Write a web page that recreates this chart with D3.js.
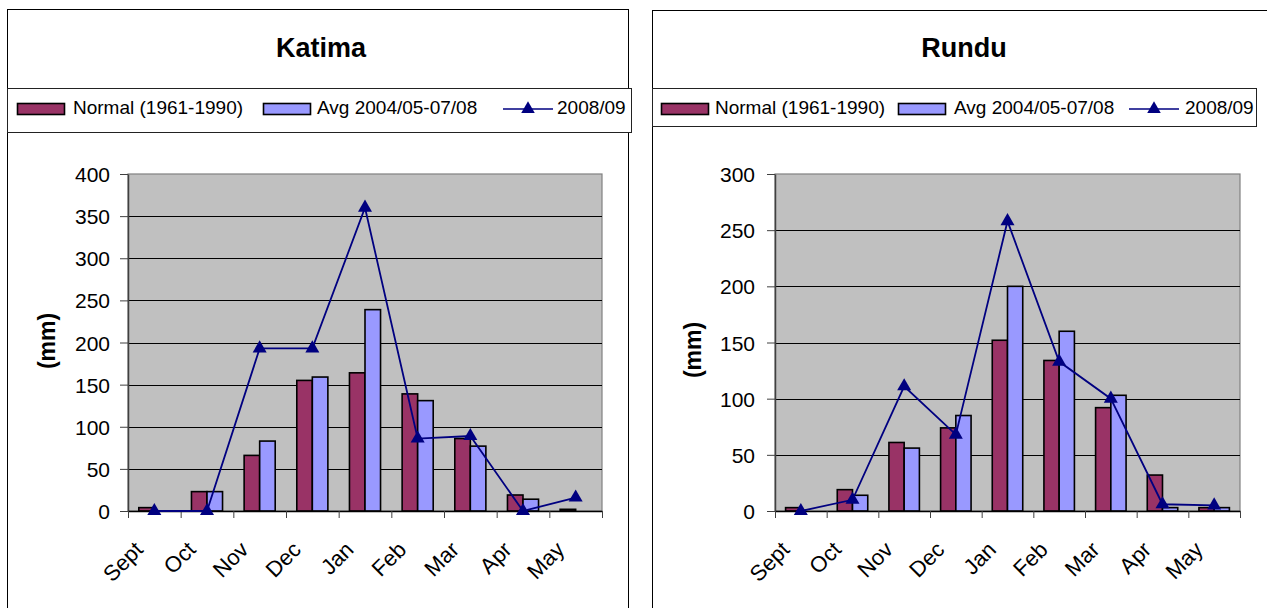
<!DOCTYPE html>
<html>
<head>
<meta charset="utf-8">
<script src="https://cdnjs.cloudflare.com/ajax/libs/d3/7.8.5/d3.min.js"></script>
<style>
  html, body { margin: 0; padding: 0; background: #fff; }
  svg { display: block; font-family: "Liberation Sans", Arial, sans-serif; }
</style>
</head>
<body>
<svg id="chart" width="1267" height="608"></svg>
<script>
// ---- data ----
const months = ["Sept", "Oct", "Nov", "Dec", "Jan", "Feb", "Mar", "Apr", "May"];
const seriesNames = ["Normal (1961-1990)", "Avg 2004/05-07/08", "2008/09"];

const katimaNormal = [4, 23, 66, 155, 164, 139, 86, 19, 2];
const katimaAvg    = [0, 23, 83, 159, 239, 131, 77, 14, 0];
const katima0809   = [0, 0, 193, 193, 360, 86, 89, 0, 16];
const katimaTicks  = [0, 50, 100, 150, 200, 250, 300, 350, 400];

const ronduNormal  = [3, 19, 61, 74, 152, 134, 92, 32, 3];
const ronduAvg     = [0, 14, 56, 85, 200, 160, 103, 3, 3];
const rondu0809    = [0, 10, 111, 68, 258, 133, 100, 6, 5];
const ronduTicks   = [0, 50, 100, 150, 200, 250, 300];

// ---- styles ----
const C_NORMAL = "#993366", C_AVG = "#9999FF", C_LINE = "#000080", C_PLOT = "#C0C0C0";

const svg = d3.select("#chart");

function drawChart(cfg) {
  const g = svg.append("g");
  // outer frame
  g.append("rect").attr("x", cfg.frame[0] + 0.5).attr("y", cfg.frame[1] + 0.5)
    .attr("width", cfg.frame[2]).attr("height", cfg.frame[3])
    .attr("fill", "#fff").attr("stroke", "#000").attr("stroke-width", 1);
  // title
  g.append("text").attr("x", cfg.titleX).attr("y", 57).attr("text-anchor", "middle")
    .attr("font-size", 27).attr("font-weight", "bold").text(cfg.title);
  // legend box
  const lg = cfg.legend;
  g.append("rect").attr("x", lg.box[0] + 0.5).attr("y", lg.box[1] + 0.5)
    .attr("width", lg.box[2]).attr("height", lg.box[3])
    .attr("fill", "#fff").attr("stroke", "#222").attr("stroke-width", 1);
  const swCol = [C_NORMAL, C_AVG];
  [0, 1].forEach(i => {
    g.append("rect").attr("x", lg.sw[i] + 0.5).attr("y", 103.5).attr("width", 47).attr("height", 11)
      .attr("fill", swCol[i]).attr("stroke", "#000").attr("stroke-width", 1.6);
  });
  g.append("line").attr("x1", lg.sw[2]).attr("x2", lg.sw[2] + 50).attr("y1", 109).attr("y2", 109)
    .attr("stroke", C_LINE).attr("stroke-width", 1.6);
  g.append("path").attr("d", d3.symbol(d3.symbolTriangle, 80)())
    .attr("transform", `translate(${lg.sw[2] + 25},109)`).attr("fill", C_LINE);
  [0, 1, 2].forEach(i => {
    g.append("text").attr("x", lg.tx[i]).attr("y", 114).attr("font-size", 19).text(seriesNames[i]);
  });

  // scales
  const p = cfg.plot; // [left, top, right, bottom]
  const y = d3.scaleLinear().domain([0, cfg.ticks[cfg.ticks.length - 1]]).range([p[3], p[1]]);
  const x = d3.scaleBand().domain(months).range([p[0], p[2]]).paddingInner(0.41).paddingOuter(0.205);
  const xs = d3.scaleBand().domain([0, 1]).range([0, x.bandwidth()]);
  const xb = d3.scaleLinear().domain([0, months.length]).range([p[0], p[2]]);

  // plot background
  g.append("rect").attr("x", p[0]).attr("y", p[1]).attr("width", p[2] - p[0]).attr("height", p[3] - p[1])
    .attr("fill", C_PLOT).attr("stroke", "#808080").attr("stroke-width", 1.2);
  // gridlines
  g.append("g").selectAll("line").data(cfg.ticks.slice(1, -1)).join("line")
    .attr("x1", p[0]).attr("x2", p[2])
    .attr("y1", d => Math.round(y(d)) + 0.5).attr("y2", d => Math.round(y(d)) + 0.5)
    .attr("stroke", "#000").attr("stroke-width", 1);

  // bars
  const series = [cfg.normal, cfg.avg];
  series.forEach((vals, si) => {
    g.append("g").selectAll("rect").data(vals.map((v, i) => ({ m: months[i], v })).filter(d => d.v > 0)).join("rect")
      .attr("x", d => x(d.m) + xs(si))
      .attr("y", d => y(d.v))
      .attr("width", xs.bandwidth())
      .attr("height", d => y(0) - y(d.v))
      .attr("fill", swCol[si]).attr("stroke", "#000").attr("stroke-width", 1.6);
  });

  // y axis
  const ya = g.append("g").attr("transform", `translate(${p[0]},0)`)
    .call(d3.axisLeft(y).tickValues(cfg.ticks).tickSize(8).tickPadding(cfg.tickPad).tickSizeOuter(0));
  ya.select(".domain").attr("stroke", "#404040").attr("stroke-width", 1.5);
  ya.selectAll(".tick line").attr("stroke", "#404040");
  ya.selectAll("text").attr("font-size", 21).attr("font-family", "Liberation Sans, Arial, sans-serif")
    .attr("fill", "#000").attr("dy", "0.36em");

  // x axis (ticks at category boundaries)
  const xa = g.append("g").attr("transform", `translate(0,${p[3]})`)
    .call(d3.axisBottom(xb).tickValues(d3.range(months.length + 1)).tickSize(7).tickFormat("").tickSizeOuter(0));
  xa.select(".domain").attr("stroke", "#000").attr("stroke-width", 1.3);
  xa.selectAll(".tick line").attr("stroke", "#404040");

  // x labels
  g.append("g").selectAll("text").data(months).join("text")
    .attr("transform", d => `translate(${x(d) + x.bandwidth() / 2 - 10},${p[3] + 40}) rotate(-45)`)
    .attr("text-anchor", "end").attr("font-size", 22).text(d => d);

  // y title
  g.append("text").attr("transform", `translate(${cfg.yTitle[0]},${cfg.yTitle[1]}) rotate(-90)`)
    .attr("text-anchor", "middle").attr("font-size", 23).attr("font-weight", "bold").text("(mm)");

  // line series
  const cx = d => x(d.m) + x.bandwidth() / 2;
  const pts = cfg.line.map((v, i) => ({ m: months[i], v }));
  g.append("path").datum(pts)
    .attr("d", d3.line().x(cx).y(d => y(d.v)))
    .attr("fill", "none").attr("stroke", C_LINE).attr("stroke-width", 1.8);
  g.append("g").selectAll("path").data(pts).join("path")
    .attr("d", d3.symbol(d3.symbolTriangle, 85)())
    .attr("transform", d => `translate(${cx(d)},${y(d.v)})`).attr("fill", C_LINE);
}

drawChart({
  title: "Katima", titleX: 321,
  frame: [7, 9, 621, 620],
  legend: { box: [7, 88, 624, 44], sw: [17, 263, 503], tx: [73, 317, 557] },
  plot: [128, 174, 602, 511],
  ticks: katimaTicks, tickPad: 10,
  normal: katimaNormal, avg: katimaAvg, line: katima0809,
  yTitle: [55, 341]
});

drawChart({
  title: "Rundu", titleX: 964,
  frame: [652, 10, 640, 620],
  legend: { box: [652, 88, 604, 38], sw: [661, 898, 1129], tx: [715, 954, 1185] },
  plot: [775, 174, 1240, 511],
  ticks: ronduTicks, tickPad: 12,
  normal: ronduNormal, avg: ronduAvg, line: rondu0809,
  yTitle: [701, 350]
});
</script>
</body>
</html>
